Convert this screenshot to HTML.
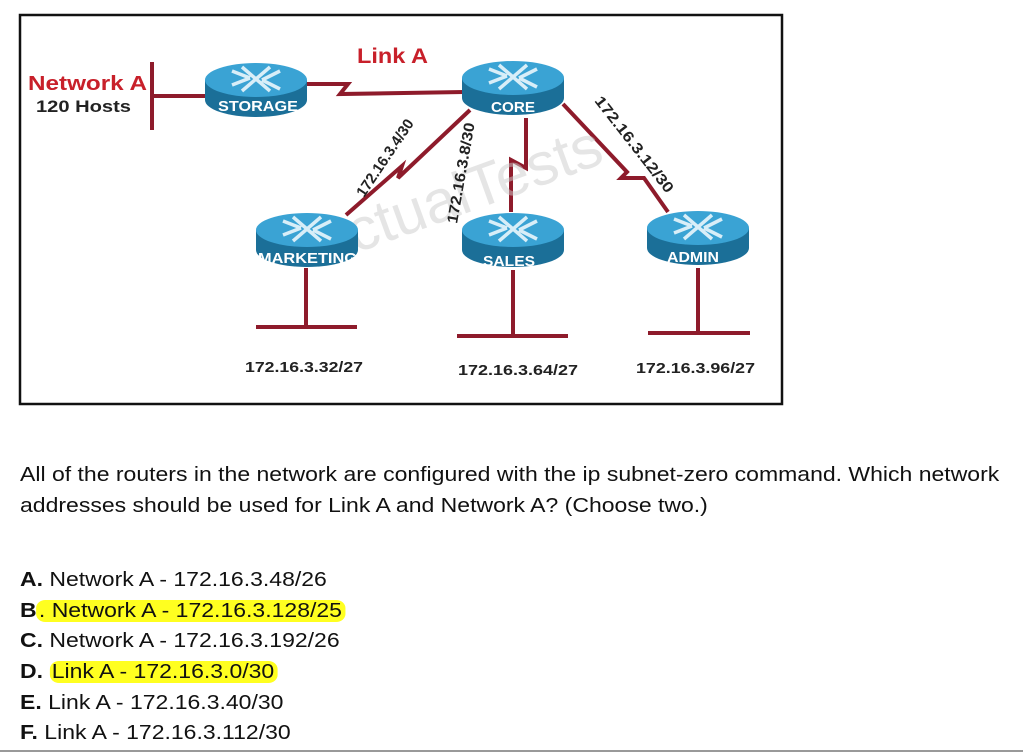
<!DOCTYPE html>
<html><head><meta charset="utf-8"><style>
body{margin:0;width:1023px;height:754px;background:#fff;position:relative;overflow:hidden;font-family:"Liberation Sans",Arial,sans-serif;}
.t{position:absolute;font-size:20px;color:#111;white-space:nowrap;transform:scaleX(1.15);transform-origin:0 0;}
.hl{background:#ffff20;border-radius:8px;padding:0 3px 0 2px;}
b{font-weight:bold;}
</style></head><body>
<svg width="1023" height="754" style="position:absolute;left:0;top:0" xmlns="http://www.w3.org/2000/svg">
<defs>
<g id="r">
<path d="M-51,-8 L-51,12 A51,17 0 0 0 51,12 L51,-8 Z" fill="#1b6f98"/>
<ellipse cx="0" cy="-8" rx="51" ry="17" fill="#3aa3d4"/>
<path d="M-24,-17 L-6,-10 M-24,-3 L-6,-10 M24,-17 L6,-8 M24,1 L6,-8 M-14,-21 L14,3 M14,-21 L-14,3" stroke="#d8eef8" stroke-width="3.5" fill="none"/>
</g>
</defs>
<rect x="20" y="15" width="762" height="389" fill="#fff" stroke="#111" stroke-width="2.5"/>
<g stroke="#8e1b2b" stroke-width="4" fill="none" stroke-linejoin="miter">
<line x1="152" y1="62" x2="152" y2="130"/>
<line x1="152" y1="96" x2="208" y2="96"/>
<polyline points="306,84 348,84 340,94 464,92"/>
<polyline points="346,215 402,166 398,178 470,110"/>
<polyline points="526,118 526,168 511,160 511,212"/>
<polyline points="563,104 627,172 621,178 644,178 668,212"/>
<line x1="306" y1="268" x2="306" y2="327"/>
<line x1="256" y1="327" x2="357" y2="327"/>
<line x1="513" y1="270" x2="513" y2="336"/>
<line x1="457" y1="336" x2="568" y2="336"/>
<line x1="698" y1="268" x2="698" y2="333"/>
<line x1="648" y1="333" x2="750" y2="333"/>
</g>
<text x="300" y="235" font-size="60" fill="#ccc" opacity="0.5" transform="rotate(-20 400 200)" font-family="Liberation Sans,sans-serif">ActualTests</text>
<use href="#r" x="256" y="88"/>
<use href="#r" x="513" y="86"/>
<use href="#r" x="307" y="238"/>
<use href="#r" x="513" y="238"/>
<use href="#r" x="698" y="236"/>
<g fill="#fff" font-weight="bold" font-size="15" font-family="Liberation Sans,sans-serif" lengthAdjust="spacingAndGlyphs">
<text x="218" y="111" textLength="80" lengthAdjust="spacingAndGlyphs">STORAGE</text>
<text x="491" y="112" textLength="44" lengthAdjust="spacingAndGlyphs">CORE</text>
<text x="258" y="263" textLength="99" lengthAdjust="spacingAndGlyphs">MARKETING</text>
<text x="483" y="266" textLength="52" lengthAdjust="spacingAndGlyphs">SALES</text>
<text x="667" y="262" textLength="52" lengthAdjust="spacingAndGlyphs">ADMIN</text>
</g>
<g font-family="Liberation Sans,sans-serif" font-weight="bold">
<text x="28" y="90" font-size="20" fill="#c8202a" textLength="119" lengthAdjust="spacingAndGlyphs">Network A</text>
<text x="36" y="112" font-size="17" fill="#222" textLength="95" lengthAdjust="spacingAndGlyphs">120 Hosts</text>
<text x="357" y="63" font-size="21" fill="#c8202a" textLength="71" lengthAdjust="spacingAndGlyphs">Link A</text>
<text font-size="15" fill="#222" transform="translate(364,198) rotate(-56)" textLength="90" lengthAdjust="spacingAndGlyphs">172.16.3.4/30</text>
<text font-size="15" fill="#222" transform="translate(457,224) rotate(-80)" textLength="102" lengthAdjust="spacingAndGlyphs">172.16.3.8/30</text>
<text font-size="15" fill="#222" transform="translate(594,101) rotate(52)" textLength="118" lengthAdjust="spacingAndGlyphs">172.16.3.12/30</text>
<text x="245" y="372" font-size="15" fill="#222" textLength="118" lengthAdjust="spacingAndGlyphs">172.16.3.32/27</text>
<text x="458" y="375" font-size="15" fill="#222" textLength="120" lengthAdjust="spacingAndGlyphs">172.16.3.64/27</text>
<text x="636" y="373" font-size="15" fill="#222" textLength="119" lengthAdjust="spacingAndGlyphs">172.16.3.96/27</text>
</g>
<line x1="0" y1="751" x2="1023" y2="751" stroke="#999" stroke-width="2"/>
</svg>
<div class="t" style="left:20px;top:464px">All of the routers in the network are configured with the ip subnet-zero command. Which network</div>
<div class="t" style="left:20px;top:495px">addresses should be used for Link A and Network A? (Choose two.)</div>
<div class="t" style="left:20px;top:569px"><b>A.</b> Network A - 172.16.3.48/26</div>
<div class="t" style="left:20px;top:600px"><b>B</b><span class="hl">. Network A - 172.16.3.128/25</span></div>
<div class="t" style="left:20px;top:630px"><b>C.</b> Network A - 172.16.3.192/26</div>
<div class="t" style="left:20px;top:661px"><b>D.</b> <span class="hl">Link A - 172.16.3.0/30</span></div>
<div class="t" style="left:20px;top:692px"><b>E.</b> Link A - 172.16.3.40/30</div>
<div class="t" style="left:20px;top:722px"><b>F.</b> Link A - 172.16.3.112/30</div>
</body></html>
